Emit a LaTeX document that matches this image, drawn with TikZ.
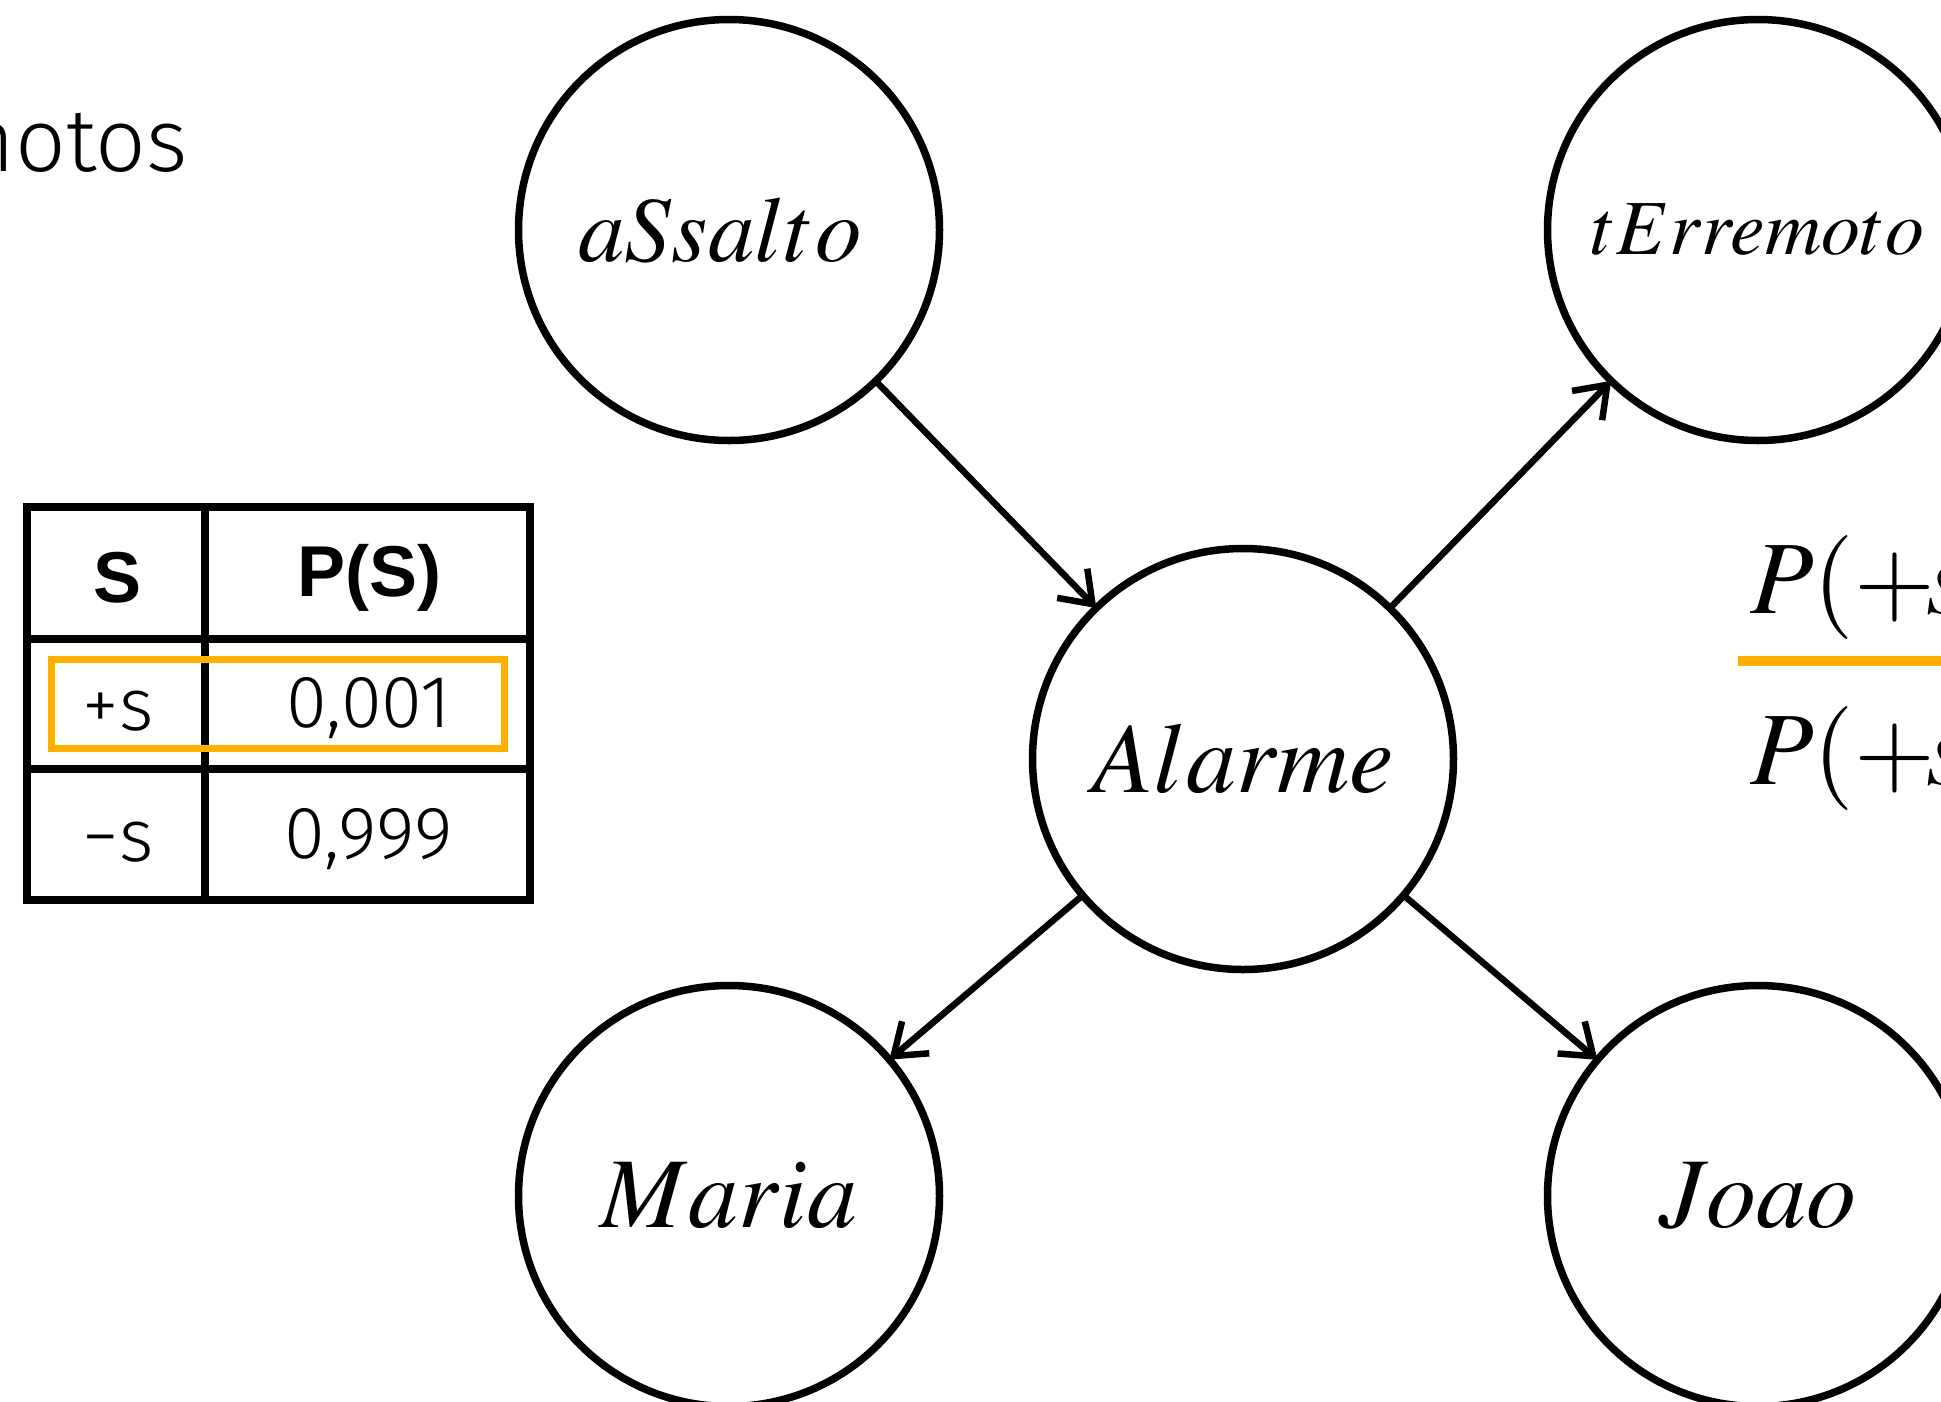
\documentclass[tikz,border=0pt]{standalone}
\usepackage{mathptmx}
\usepackage{fontspec}
\usetikzlibrary{arrows.meta}
\newfontfamily\thinfont{Fira Sans Light}
\newfontfamily\headfont{Liberation Sans}
\definecolor{amber}{RGB}{255,176,0}
\tikzset{
  var/.style={circle, draw, line width=7.5pt, minimum size=421pt, inner sep=0pt,
              outer sep=0pt, font=\fontsize{100}{110}\selectfont},
  link/.style={line width=6.5pt, -{Straight Barb[length=29pt,width=42pt]}},
  grid/.style={line width=8pt},
  headtxt/.style={font=\fontsize{72}{76}\selectfont\headfont\bfseries},
  celltxt/.style={font=\fontsize{74}{80}\selectfont\thinfont},
}
\begin{document}
\begin{tikzpicture}[x=1pt,y=-1pt]
\useasboundingbox (0,0) rectangle (1941,1401);
\clip (0,0) rectangle (1941,1401);
\fill[white] (0,0) rectangle (1941,1401);

% heading fragment cut by the left edge
\node[anchor=base east, inner sep=0pt, font=\fontsize{89}{96}\selectfont\thinfont]
  (title) at (188,171) {motos};

% Bayesian network
\node[var] (s) at (729,230)  {\fontsize{93}{100}\selectfont\kern-18pt$aSsalto$};
\node[var] (t) at (1758,230) {\fontsize{78}{86}\selectfont$tErremoto$};
\node[var] (a) at (1243,759) {$Alarme$};
\node[var] (m) at (729,1196) {$Maria$};
\node[var] (j) at (1758,1196) {$Joao$};

\draw[link] (s) -- (a);
\draw[link] (a) -- (t);
\draw[link] (a) -- (m);
\draw[link] (a) -- (j);

% prior table of S
\draw[grid] (27,507) rectangle (530,900);
\draw[grid] (205,507) -- (205,900);
\draw[grid] (27,639) -- (530,639);
\draw[grid] (27,769) -- (530,769);

\node[headtxt] (h1) at (118,578) {S};
\node[headtxt] (h2) at (369,578) {P(S)};
\node[celltxt] (r1a) at (118,711) {+s};
\node[celltxt] (r1b) at (369,708) {0,001};
\node[celltxt] (r2a) at (118,842) {−s};
\node[celltxt] (r2b) at (369,839) {0,999};

\draw[amber, line width=7pt] (51,659) rectangle (504,748);

% fraction on the right
\node[anchor=base west, inner sep=0pt, font=\fontsize{104}{110}\selectfont]
  (num) at (1750,613) {$P(+\mkern-1.5mu s$};
\node[anchor=base west, inner sep=0pt, font=\fontsize{104}{110}\selectfont]
  (den) at (1750,784) {$P(+\mkern-1.5mu s$};
\draw[amber, line width=10pt] (1738,661) -- (1941,661);
\end{tikzpicture}
\end{document}
